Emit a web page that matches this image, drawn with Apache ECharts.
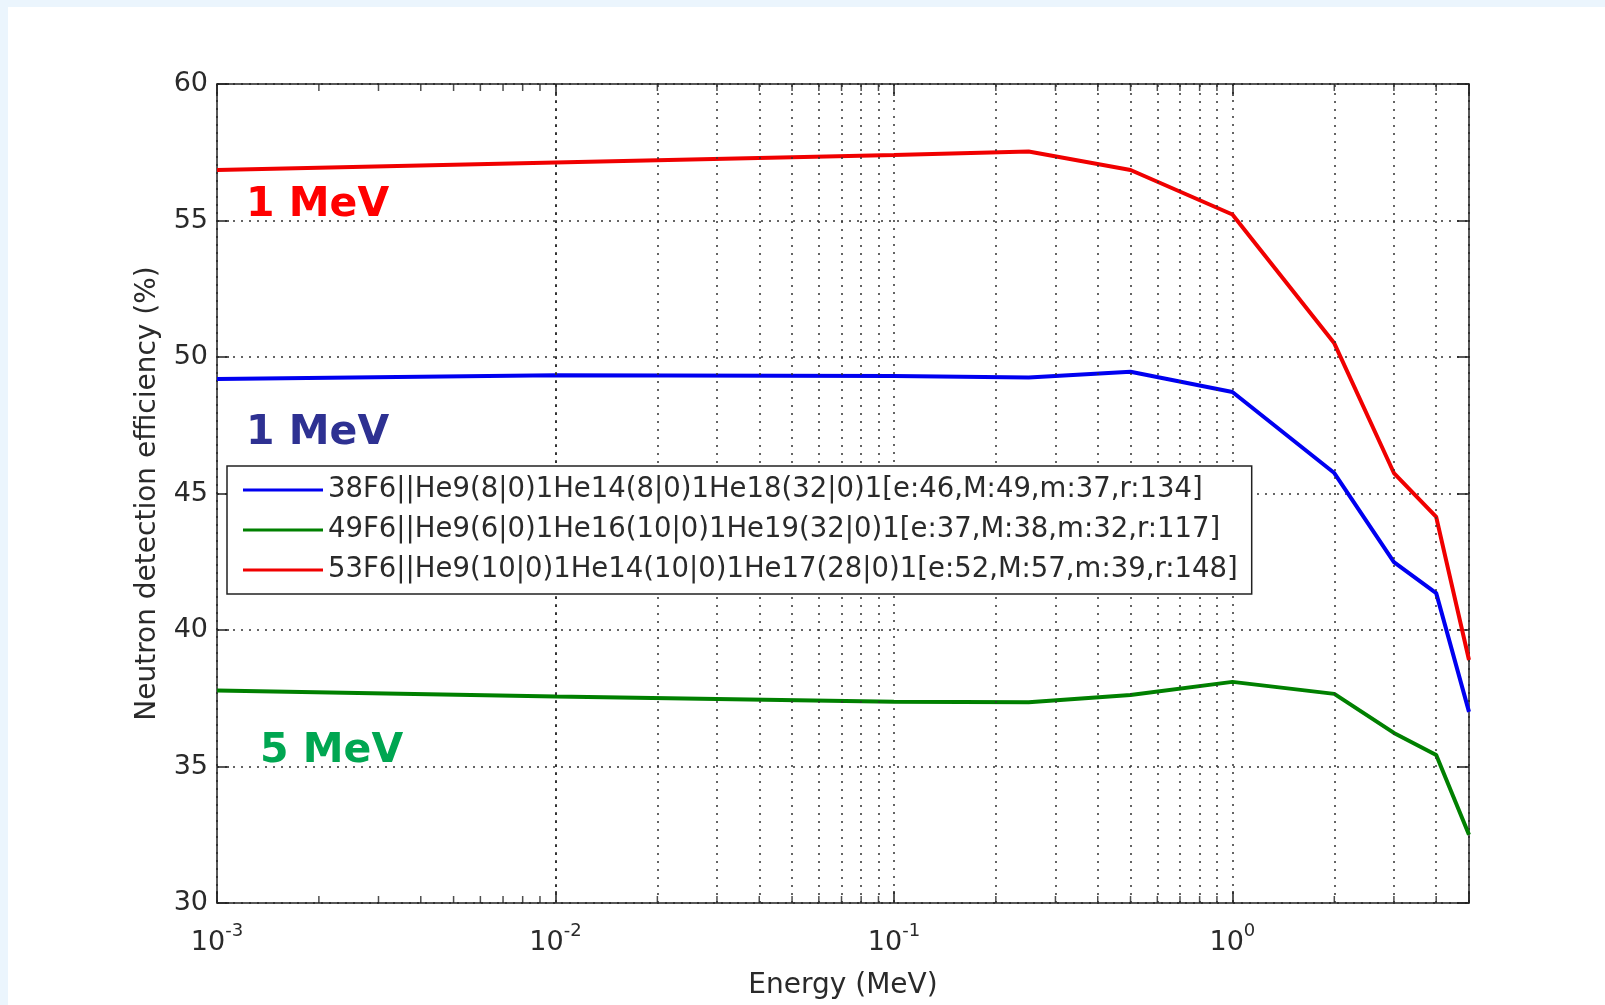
<!DOCTYPE html>
<html>
<head>
<meta charset="utf-8">
<script src="https://cdn.jsdelivr.net/npm/echarts@6/dist/echarts.min.js"></script>
<style>
html, body { margin: 0; padding: 0; width: 100%; height: 100%; background: #ebf5fd; overflow: hidden; }
#chart { position: absolute; left: 8px; top: 7px; width: 1597px; height: 998px; background: #fff; }
</style>
</head>
<body>
<div id="chart"></div>
<script>
// energies in MeV and efficiency (%)
const energy = [0.001, 0.01, 0.1, 0.25, 0.5, 1, 2, 3, 4, 5]
const eff38 = [49.19, 49.33, 49.30, 49.25, 49.46, 48.72, 45.75, 42.49, 41.35, 37.0]
const eff49 = [37.78, 37.56, 37.37, 37.35, 37.62, 38.10, 37.66, 36.23, 35.42, 32.5]
const eff53 = [56.85, 57.12, 57.40, 57.53, 56.85, 55.22, 50.50, 45.75, 44.14, 38.9]

const names = [
  '38F6||He9(8|0)1He14(8|0)1He18(32|0)1[e:46,M:49,m:37,r:134]',
  '49F6||He9(6|0)1He16(10|0)1He19(32|0)1[e:37,M:38,m:32,r:117]',
  '53F6||He9(10|0)1He14(10|0)1He17(28|0)1[e:52,M:57,m:39,r:148]'
]
// minor decade lines 2..9 x 10^k
const minorX = [0.002, 0.003, 0.004, 0.005, 0.006, 0.007, 0.008, 0.009,
  0.02, 0.03, 0.04, 0.05, 0.06, 0.07, 0.08, 0.09,
  0.2, 0.3, 0.4, 0.5, 0.6, 0.7, 0.8, 0.9, 2, 3, 4]
const yTicks = [30, 35, 40, 45, 50, 55, 60]

const FONT = 'DejaVu Sans'
const dotted = { color: '#333', width: 1.5, type: [2, 6] }

function pairs (ys) {
  return energy.map((e, i) => [e, ys[i]])
}

const chart = echarts.init(document.getElementById('chart'))
chart.setOption({
  animation: false,
  textStyle: { fontFamily: FONT },
  grid: { left: 209, right: 136, top: 77, bottom: 102 },
  legend: {
    orient: 'vertical',
    left: 219,
    top: 459,
    z: 10,
    padding: [9, 14, 9, 16],
    itemGap: 10,
    itemWidth: 80,
    itemHeight: 3,
    icon: 'rect',
    backgroundColor: '#fff',
    borderColor: '#222',
    borderWidth: 1.5,
    borderRadius: 0,
    textStyle: { fontFamily: FONT, fontSize: 27.5, color: '#2a2a2a', lineHeight: 30 },
    data: names
  },
  xAxis: [
    {
      type: 'log',
      logBase: 10,
      min: 0.001,
      max: 5,
      name: 'Energy (MeV)',
      nameLocation: 'middle',
      nameGap: 69,
      nameTextStyle: { fontFamily: FONT, fontSize: 28, color: '#2a2a2a' },
      axisLine: { show: true, lineStyle: { color: '#222', width: 1.5 } },
      axisTick: { show: true, inside: true, length: 12, lineStyle: { color: '#222', width: 1.5 } },
      axisLabel: {
        margin: 19,
        color: '#2a2a2a',
        formatter: function (v) {
          const e = Math.round(Math.log10(v))
          if (Math.abs(Math.pow(10, e) - v) / v > 1e-6) return ''
          return '{b|10}{s|' + e + '}'
        },
        rich: {
          b: { fontFamily: FONT, fontSize: 27, color: '#2a2a2a', lineHeight: 42 },
          s: { fontFamily: FONT, fontSize: 18, color: '#2a2a2a', verticalAlign: 'top', lineHeight: 18 }
        }
      },
      splitLine: { show: true, lineStyle: dotted }
    },
    {
      type: 'log',
      logBase: 10,
      min: 0.001,
      max: 5,
      position: 'top',
      axisLine: { show: true, lineStyle: { color: '#222', width: 1.5 } },
      axisTick: { show: true, inside: true, length: 12, lineStyle: { color: '#222', width: 1.5 } },
      axisLabel: { show: false },
      splitLine: { show: false }
    }
  ],
  yAxis: [
    {
      type: 'value',
      min: yTicks[0],
      max: yTicks[yTicks.length - 1],
      interval: 5,
      name: 'Neutron detection efficiency (%)',
      nameLocation: 'middle',
      nameGap: 55,
      nameTextStyle: { fontFamily: FONT, fontSize: 28, color: '#2a2a2a' },
      axisLine: { show: true, lineStyle: { color: '#222', width: 1.5 } },
      axisTick: { show: true, inside: true, length: 12, lineStyle: { color: '#222', width: 1.5 } },
      axisLabel: { margin: 9, fontFamily: FONT, fontSize: 27, color: '#2a2a2a' },
      splitLine: { show: true, lineStyle: dotted }
    },
    {
      type: 'value',
      min: yTicks[0],
      max: yTicks[yTicks.length - 1],
      interval: 5,
      position: 'right',
      axisLine: { show: true, lineStyle: { color: '#222', width: 1.5 } },
      axisTick: { show: true, inside: true, length: 12, lineStyle: { color: '#222', width: 1.5 } },
      axisLabel: { show: false },
      splitLine: { show: false }
    }
  ],
  series: [
    {
      // minor ticks (bottom) + minor dotted grid lines
      type: 'scatter',
      silent: true,
      symbol: 'rect',
      symbolSize: [1.5, 7],
      symbolOffset: [0, -3.5],
      itemStyle: { color: '#222' },
      data: minorX.map(v => [v, yTicks[0]]),
      markLine: {
        silent: true,
        symbol: 'none',
        label: { show: false },
        lineStyle: dotted,
        data: minorX.map(v => ({ xAxis: v }))
      },
      z: 1
    },
    {
      // minor ticks (top)
      type: 'scatter',
      silent: true,
      symbol: 'rect',
      symbolSize: [1.5, 7],
      symbolOffset: [0, 3.5],
      itemStyle: { color: '#222' },
      data: minorX.map(v => [v, yTicks[yTicks.length - 1]]),
      z: 1
    },
    {
      name: names[0],
      type: 'line',
      symbol: 'none',
      color: '#0000f0',
      lineStyle: { width: 4, color: '#0000f0' },
      data: pairs(eff38),
      z: 3
    },
    {
      name: names[1],
      type: 'line',
      symbol: 'none',
      color: '#008000',
      lineStyle: { width: 4, color: '#008000' },
      data: pairs(eff49),
      z: 3
    },
    {
      name: names[2],
      type: 'line',
      symbol: 'none',
      color: '#f00000',
      lineStyle: { width: 4, color: '#f00000' },
      data: pairs(eff53),
      z: 3
    }
  ],
  graphic: [
    {
      type: 'text', left: 238, top: 178, z: 10,
      style: { text: '1 MeV', fill: '#ff0000', font: 'bold 41px "DejaVu Sans"' }
    },
    {
      type: 'text', left: 238, top: 406, z: 10,
      style: { text: '1 MeV', fill: '#2e3192', font: 'bold 41px "DejaVu Sans"' }
    },
    {
      type: 'text', left: 252, top: 724, z: 10,
      style: { text: '5 MeV', fill: '#00a651', font: 'bold 41px "DejaVu Sans"' }
    }
  ]
})
</script>
</body>
</html>
